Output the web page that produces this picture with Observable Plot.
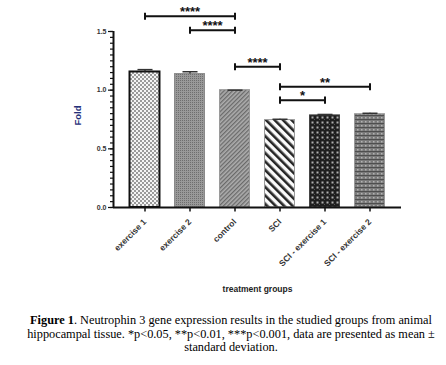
<!DOCTYPE html>
<html>
<head>
<meta charset="utf-8">
<script src="https://cdn.jsdelivr.net/npm/d3@7"></script>
<script src="https://cdn.jsdelivr.net/npm/@observablehq/plot@0.6"></script>
<style>
  body { margin: 0; background: #fff; }
  #caption { font-family: "Liberation Serif", "Times New Roman", serif; font-size: 12.3px; line-height: 13.5px; text-align: center; color: #000; margin: 9px 0 0 24px; width: 414px; }
</style>
</head>
<body>
<div id="chart"></div>
<div id="caption"><b>Figure 1</b>. Neutrophin 3 gene expression results in the studied groups from animal hippocampal tissue. *p&lt;0.05, **p&lt;0.01, ***p&lt;0.001, data are presented as mean ± standard deviation.</div>
<script>
const groups = ["exercise 1", "exercise 2", "control", "SCI", "SCI - exercise 1", "SCI - exercise 2"];
const means = [1.155, 1.137, 1.0, 0.745, 0.785, 0.795];
const sds = [0.02, 0.02, 0.0, 0.007, 0.008, 0.008];
const yTicks = [0, 0.5, 1.0, 1.5];

const bracketFrom = ["exercise 1", "exercise 2", "control", "SCI", "SCI"];
const bracketTo = ["control", "control", "SCI", "SCI - exercise 2", "SCI - exercise 1"];
const bracketY = [1.63, 1.51, 1.20, 1.03, 0.915];
const bracketLabel = ["****", "****", "****", "**", "*"];

const bars = groups.map((g, i) => ({g, i, mean: means[i], sd: sds[i]}));
const brackets = bracketFrom.map((f, k) => ({
  a: groups.indexOf(f), b: groups.indexOf(bracketTo[k]), y: bracketY[k], label: bracketLabel[k]
}));

const half = 0.333, cap = 0.167, tick = 0.03;
const xDomain = [-0.7, 5.7];
const strokes = ["#111", "#8a8a8a", "#9a9a9a", "#9a9a9a", "#444", "#9a9a9a"];
const strokeW = [2, 1, 1, 1, 1, 1];

const plot = Plot.plot({
  width: 446,
  height: 305,
  marginLeft: 113,
  marginRight: 45,
  marginTop: 31,
  marginBottom: 98,
  style: {fontFamily: "'Liberation Sans', Arial, sans-serif", color: "#222"},
  x: {type: "linear", domain: xDomain, axis: null},
  y: {domain: [0, 1.5], axis: null},
  marks: [
    Plot.rectY(bars, {x1: d => d.i - half, x2: d => d.i + half, y1: 0, y2: "mean",
      fill: d => `url(#pat${d.i})`, stroke: d => strokes[d.i], strokeWidth: d => strokeW[d.i]}),
    Plot.ruleX(bars, {x: "i", y1: "mean", y2: d => d.mean + d.sd, stroke: "#333", strokeWidth: 1.5}),
    Plot.link(bars, {x1: d => d.i - cap, x2: d => d.i + cap, y1: d => d.mean + d.sd, y2: d => d.mean + d.sd, stroke: "#333", strokeWidth: 1.5}),
    // axes lines
    Plot.ruleY([0], {stroke: "#111", strokeWidth: 2}),
    Plot.ruleX([xDomain[0]], {y1: 0, y2: 1.5, stroke: "#111", strokeWidth: 2}),
    // y ticks
    Plot.axisY({ticks: d3.range(0, 1.5001, 0.05), tickSize: 3, text: null, strokeWidth: 1.2, stroke: "#111"}),
    Plot.axisY({ticks: yTicks, tickSize: 5, tickPadding: 2, tickFormat: d3.format(".1f"), fontSize: 7, fontWeight: "bold", strokeWidth: 1.2, stroke: "#111", fill: "#333", label: null}),
    // x ticks and labels
    Plot.link(bars, {x1: "i", x2: "i", y1: 0, y2: -0.035, stroke: "#111", strokeWidth: 1.5}),
    Plot.text(bars, {x: "i", y: 0, text: "g", rotate: -45, textAnchor: "end", dx: 0, dy: 13, fontSize: 8.5, fontWeight: "bold", fill: "#333"}),
    // axis titles
    Plot.text(["treatment groups"], {frameAnchor: "bottom", dy: 84, fontSize: 8.5, fontWeight: "bold", fill: "#222"}),
    Plot.text(["Fold"], {frameAnchor: "left", dx: -36, dy: 6, rotate: -90, fontSize: 9.5, fontWeight: "bold", fill: "#26307a"}),
    // significance brackets
    Plot.link(brackets, {x1: "a", x2: "b", y1: "y", y2: "y", stroke: "#111", strokeWidth: 2}),
    Plot.link(brackets, {x1: "a", x2: "a", y1: d => d.y - tick, y2: d => d.y + tick, stroke: "#111", strokeWidth: 2}),
    Plot.link(brackets, {x1: "b", x2: "b", y1: d => d.y - tick, y2: d => d.y + tick, stroke: "#111", strokeWidth: 2}),
    Plot.text(brackets, {x: d => (d.a + d.b) / 2, y: "y", text: "label", dy: 0, lineAnchor: "bottom", fontSize: 13, fontWeight: "bold", fill: "#111"})
  ]
});

const ns = "http://www.w3.org/2000/svg";
const defs = document.createElementNS(ns, "defs");
defs.innerHTML = `
<pattern id="pat0" width="4" height="4" patternUnits="userSpaceOnUse"><rect width="4" height="4" fill="#f4f4f4"/><rect width="2" height="2" fill="#9a9a9a"/><rect x="2" y="2" width="2" height="2" fill="#9a9a9a"/></pattern>
<pattern id="pat1" width="2" height="2" patternUnits="userSpaceOnUse"><rect width="2" height="2" fill="#999"/><rect width="1" height="1" fill="#6e6e6e"/></pattern>
<pattern id="pat2" width="3" height="3" patternUnits="userSpaceOnUse" patternTransform="rotate(45)"><rect width="3" height="3" fill="#adadad"/><rect width="1.3" height="3" fill="#6a6a6a"/></pattern>
<pattern id="pat3" width="6" height="6" patternUnits="userSpaceOnUse" patternTransform="rotate(-45)"><rect width="6" height="6" fill="#fafafa"/><rect width="2.6" height="6" fill="#262626"/></pattern>
<pattern id="pat4" width="5" height="5" patternUnits="userSpaceOnUse"><rect width="5" height="5" fill="#1e1e1e"/><rect x="1.5" y="1.5" width="2" height="2" fill="#b0b0b0"/><rect x="4" y="4" width="1" height="1" fill="#555"/></pattern>
<pattern id="pat5" width="4" height="4" patternUnits="userSpaceOnUse"><rect width="4" height="4" fill="#7a7a7a"/><rect x="1" y="1" width="1.5" height="1.5" fill="#b4b4b4"/><rect y="3.3" width="4" height="0.7" fill="#3a3a3a"/></pattern>`;
plot.insertBefore(defs, plot.firstChild);
document.getElementById("chart").appendChild(plot);
</script>
</body>
</html>
